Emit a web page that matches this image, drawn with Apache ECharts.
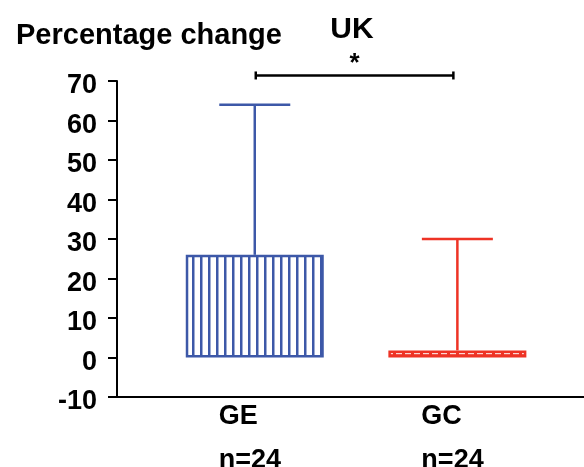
<!DOCTYPE html>
<html>
<head>
<meta charset="utf-8">
<script src="https://cdn.jsdelivr.net/npm/echarts@6/dist/echarts.min.js"></script>
<style>
  html, body { margin: 0; padding: 0; background: #fff; }
  #main { width: 584px; height: 467px; }
</style>
</head>
<body>
<div id="main"></div>
<script>
// data
var categories = ['GE', 'GC'];
var counts = ['n=24', 'n=24'];
var means = [26, 1.8];
var upperErr = [64, 30];
var sigText = '*';
var sigLevel = 71.4;
var colors = ['#3d58a8', '#ee3325'];
var FONT = '"Liberation Sans", Arial, sans-serif';

// stripe fills
function makePattern(w, h, draw) {
    var c = document.createElement('canvas');
    c.width = w;
    c.height = h;
    draw(c.getContext('2d'), w, h);
    return { image: c, repeat: 'repeat' };
}
var fills = [
    makePattern(8, 8, function (ctx, w, h) {
        ctx.fillStyle = '#fff';
        ctx.fillRect(0, 0, w, h);
        ctx.fillStyle = colors[0];
        ctx.fillRect(0, 0, 2.5, h);
    }),
    makePattern(9, 8, function (ctx, w, h) {
        ctx.fillStyle = colors[1];
        ctx.fillRect(0, 0, w, h);
        ctx.fillStyle = 'rgba(255,255,255,0.8)';
        ctx.fillRect(0, 1, 6, 1.2);
    })
];

var myChart = echarts.init(document.getElementById('main'));

var barData = means.map(function (v, i) {
    return {
        value: [i + 1, v],
        itemStyle: { color: fills[i], borderColor: colors[i], borderWidth: 2.5 }
    };
});
var errData = means.map(function (v, i) {
    return [i + 1, v, upperErr[i]];
});

var option = {
    animation: false,
    title: [{
        text: 'UK',
        left: 347,
        top: 10,
        textAlign: 'center',
        textStyle: { fontFamily: FONT, fontSize: 30, fontWeight: 'bold', color: '#000' }
    }, {
        text: 'Percentage change',
        left: 11,
        top: 16,
        textStyle: { fontFamily: FONT, fontSize: 29, fontWeight: 'bold', color: '#000' }
    }],
    grid: {
        left: 117,
        right: 0,
        top: 81,
        bottom: 70,
        outerBoundsMode: 'none',
        containLabel: false
    },
    xAxis: {
        type: 'value',
        min: 0.32,
        max: 2.625,
        splitLine: { show: false },
        axisTick: { show: false },
        axisLine: { show: true, onZero: false, lineStyle: { color: '#000', width: 2 } },
        axisLabel: {
            customValues: [1, 2],
            margin: -2,
            formatter: function (v) {
                var i = Math.round(v) - 1;
                return '{a|' + categories[i] + '}\n{a|' + counts[i] + '}';
            },
            rich: {
                a: {
                    width: 72,
                    align: 'left',
                    fontFamily: FONT,
                    fontSize: 27,
                    fontWeight: 'bold',
                    color: '#000',
                    lineHeight: 44
                }
            }
        }
    },
    yAxis: {
        type: 'value',
        min: -10,
        max: 70,
        interval: 10,
        splitLine: { show: false },
        axisLine: { show: true, onZero: false, lineStyle: { color: '#000', width: 2 } },
        axisTick: { show: true, inside: false, length: 9, lineStyle: { color: '#000', width: 2 } },
        axisLabel: {
            margin: 20,
            formatter: function (v) {
                // empty first line nudges the number a little below its tick
                return '{s| }\n{v|' + v + '}';
            },
            rich: {
                s: { fontSize: 8, lineHeight: 10 },
                v: {
                    fontFamily: FONT,
                    fontSize: 27,
                    fontWeight: 'bold',
                    color: '#000',
                    lineHeight: 27
                }
            }
        }
    },
    series: [{
        type: 'bar',
        barWidth: 138,
        data: barData,
        z: 2
    }, {
        type: 'custom',
        z: 3,
        encode: { x: 0, y: [1, 2] },
        data: errData,
        renderItem: function (params, api) {
            var x = api.value(0);
            var p0 = api.coord([x, api.value(1)]);
            var p1 = api.coord([x, api.value(2)]);
            var half = 35.5;
            var st = { stroke: colors[params.dataIndex], lineWidth: 2.5 };
            return {
                type: 'group',
                children: [{
                    type: 'line',
                    shape: { x1: p0[0], y1: p0[1], x2: p1[0], y2: p1[1] },
                    style: st
                }, {
                    type: 'line',
                    shape: { x1: p1[0] - half, y1: p1[1], x2: p1[0] + half, y2: p1[1] },
                    style: st
                }]
            };
        }
    }, {
        type: 'custom',
        clip: false,
        z: 4,
        data: [[1, 2, sigLevel]],
        encode: { x: [0, 1], y: 2 },
        renderItem: function (params, api) {
            var a = api.coord([api.value(0), api.value(2)]);
            var b = api.coord([api.value(1), api.value(2)]);
            a[0] = a[0] + 1;
            b[0] = b[0] - 4;
            var st = { stroke: '#000', lineWidth: 2.5 };
            return {
                type: 'group',
                children: [{
                    type: 'line',
                    shape: { x1: a[0], y1: a[1], x2: b[0], y2: b[1] },
                    style: st
                }, {
                    type: 'line',
                    shape: { x1: a[0], y1: a[1] - 4, x2: a[0], y2: a[1] + 4 },
                    style: st
                }, {
                    type: 'line',
                    shape: { x1: b[0], y1: b[1] - 4, x2: b[0], y2: b[1] + 4 },
                    style: st
                }, {
                    type: 'text',
                    style: {
                        text: sigText,
                        x: (a[0] + b[0]) / 2,
                        y: a[1] + 1,
                        align: 'center',
                        verticalAlign: 'bottom',
                        fontFamily: FONT,
                        fontSize: 26,
                        fontWeight: 'bold',
                        fill: '#000'
                    }
                }]
            };
        }
    }]
};

option && myChart.setOption(option);
</script>
</body>
</html>
